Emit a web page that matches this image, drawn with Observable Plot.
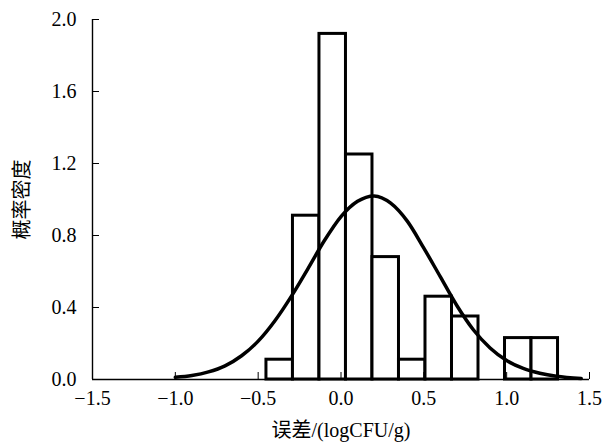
<!DOCTYPE html>
<html><head><meta charset="utf-8">
<script src="https://cdn.jsdelivr.net/npm/d3@7"></script>
<script src="https://cdn.jsdelivr.net/npm/@observablehq/plot@0.6"></script>
<style>body{margin:0;background:#fff}</style>
</head><body><div id="chart"></div>
<script>
// histogram bins (logCFU/g) and density heights
const binStart = [-0.45, -0.29, -0.13, 0.03, 0.19, 0.35, 0.51, 0.67, 0.83, 0.99, 1.15];
const binEnd   = [-0.29, -0.13, 0.03, 0.19, 0.35, 0.51, 0.67, 0.83, 0.99, 1.15, 1.31];
const density  = [0.11, 0.91, 1.92, 1.25, 0.68, 0.11, 0.46, 0.35, 0, 0.23, 0.23];
// fitted curve
const curveX = [-1.0, -0.9, -0.8, -0.7, -0.6, -0.5, -0.4, -0.3, -0.2, -0.1, 0.0, 0.1, 0.2, 0.3, 0.4, 0.5, 0.6, 0.7, 0.8, 0.9, 1.0, 1.1, 1.2, 1.3, 1.45];
const curveY = [0.012, 0.022, 0.042, 0.076, 0.132, 0.213, 0.325, 0.462, 0.615, 0.772, 0.905, 0.99, 1.02, 0.98, 0.88, 0.73, 0.57, 0.41, 0.275, 0.175, 0.105, 0.062, 0.035, 0.018, 0.006];
const xTicks = [-1.5, -1.0, -0.5, 0.0, 0.5, 1.0, 1.5];
const yTicks = [0.0, 0.4, 0.8, 1.2, 1.6, 2.0];
const xLabel = "误差/(logCFU/g)";
const yLabel = "概率密度";

const bins = binStart.map((s, i) => ({x1: s, x2: binEnd[i], y: density[i]}));
const curve = curveX.map((x, i) => ({x, y: curveY[i]}));

const chart = Plot.plot({
  width: 603,
  height: 443,
  marginLeft: 92,
  marginRight: 14,
  marginTop: 19,
  marginBottom: 64,
  style: {fontFamily: "'Liberation Serif', 'Noto Sans CJK SC', serif", fontSize: "20px", color: "#000", background: "#fff"},
  x: {domain: [-1.5, 1.5]},
  y: {domain: [0, 2.0]},
  marks: [
    Plot.rectY(bins, {x1: "x1", x2: "x2", y: "y", fill: "#fff", stroke: "#000", strokeWidth: 3}),
    Plot.line(curve, {x: "x", y: "y", curve: "monotone-x", stroke: "#000", strokeWidth: 3.5}),
    Plot.ruleY([0], {stroke: "#000", strokeWidth: 1.4}),
    Plot.ruleX([-1.5], {stroke: "#000", strokeWidth: 1.4}),
    Plot.axisX(xTicks, {tickSize: -7, tickPadding: 18, tickFormat: d3.format(".1f"), stroke: "#000", strokeWidth: 1, fontSize: 20,
      label: xLabel, labelAnchor: "center", labelOffset: 57, labelArrow: "none"}),
    Plot.axisY(yTicks, {tickSize: -7, tickPadding: 23, tickFormat: d3.format(".1f"), stroke: "#000", strokeWidth: 1, fontSize: 20,
      label: yLabel, labelAnchor: "center", labelOffset: 78, labelArrow: "none"})
  ]
});
document.getElementById("chart").appendChild(chart);
</script>
</body></html>
